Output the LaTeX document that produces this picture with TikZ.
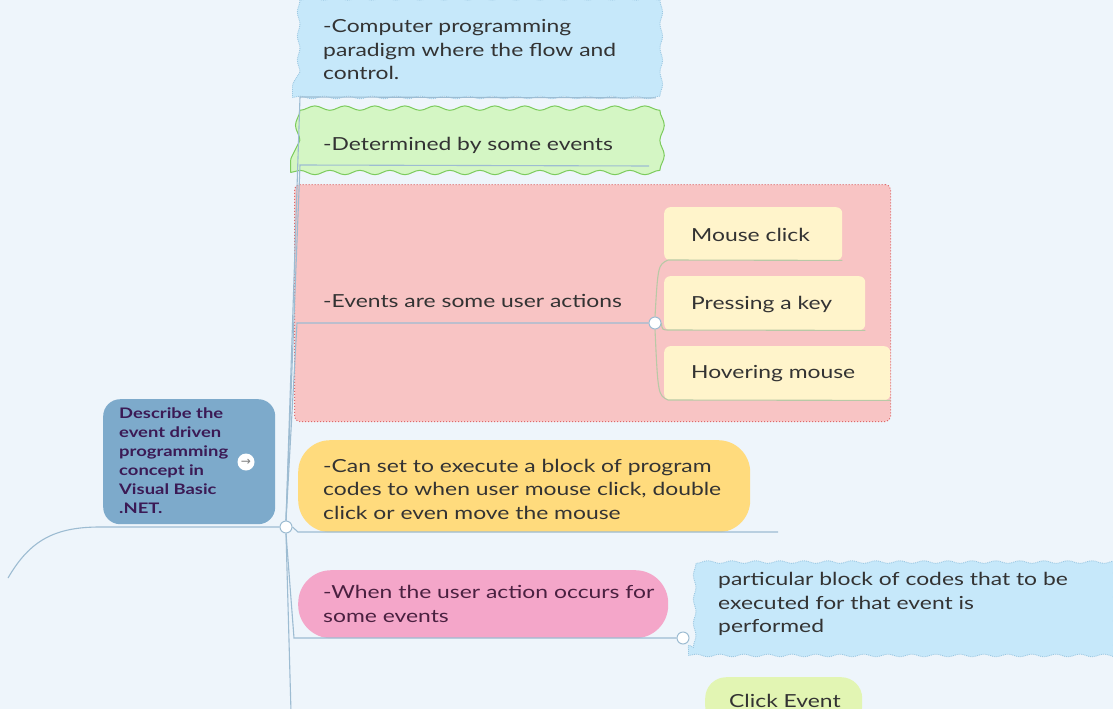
\documentclass[tikz,border=0pt]{standalone}
\usepackage{fontspec}
\setmainfont{Lato}[FakeStretch=1.27]
\newfontfamily\symfont{DejaVu Sans}
\usetikzlibrary{decorations.pathmorphing}
\pgfdeclarelayer{front}
\pgfsetlayers{main,front}
\definecolor{bgc}{HTML}{EEF5FB}
\definecolor{cloudfill}{HTML}{C6E8FA}
\definecolor{cloudline}{HTML}{9CC8E2}
\definecolor{greenfill}{HTML}{D4F6C4}
\definecolor{greenline}{HTML}{7CCB5C}
\definecolor{redfill}{HTML}{F8C4C4}
\definecolor{redline}{HTML}{DE6A6A}
\definecolor{creamfill}{HTML}{FFF4CB}
\definecolor{creamline}{HTML}{B9C9A6}
\definecolor{rootfill}{HTML}{7DAACB}
\definecolor{roottext}{HTML}{3B1A55}
\definecolor{yellowfill}{HTML}{FFDB7D}
\definecolor{pinkfill}{HTML}{F4A6C9}
\definecolor{clickfill}{HTML}{E2F5B3}
\definecolor{linec}{HTML}{9DBCD2}
\definecolor{txtc}{HTML}{333333}
\definecolor{pinktext}{HTML}{4A2040}
\begin{document}
\begin{tikzpicture}[x=1pt,y=-1pt,
  txt/.style={anchor=west, inner sep=0pt, align=left, text=txtc, font=\fontsize{18}{23.5}\selectfont},
  conn/.style={draw=linec, line width=1.1pt},
  subconn/.style={draw=creamline, line width=1.1pt},
  knob/.style={circle, draw=linec, fill=white, line width=1pt, minimum size=12pt, inner sep=0pt},
  cloudbox/.style={anchor=north west, fill=cloudfill, draw=cloudline, densely dotted, line width=0.9pt, decorate, decoration={snake, segment length=24pt, amplitude=1.3pt}},
  wavybox/.style={anchor=north west, fill=greenfill, draw=greenline, line width=1pt, decorate, decoration={snake, segment length=30pt, amplitude=2.2pt}},
  dotbox/.style={anchor=north west, fill=redfill, draw=redline, dotted, line width=1pt, rounded corners=5pt},
  subbox/.style={anchor=north west, fill=creamfill, rounded corners=6pt},
  pillbox/.style={anchor=north west, rounded corners=#1},
]
\fill[bgc] (0,0) rectangle (1113,709);
\useasboundingbox (0,0) rectangle (1113,709);
\clip (0,0) rectangle (1113,709);

% boxes
\node[cloudbox, minimum width=363pt, minimum height=94pt] (b1) at (292,3) {};
\node[wavybox, minimum width=360pt, minimum height=60pt] (b2) at (290,112) {};
\node[dotbox, minimum width=596pt, minimum height=237pt] (b3) at (294,184) {};
\node[subbox, minimum width=178pt, minimum height=53pt] (s1) at (664,207) {};
\node[subbox, minimum width=201pt, minimum height=54pt] (s2) at (664,276) {};
\node[subbox, minimum width=226pt, minimum height=54pt] (s3) at (664,346) {};
\node[pillbox=17pt, fill=rootfill, minimum width=172pt, minimum height=125pt] (root) at (103,399) {};
\node[pillbox=32pt, fill=yellowfill, minimum width=452pt, minimum height=92pt] (b4) at (298,440) {};
\node[pillbox=33pt, fill=pinkfill, minimum width=370pt, minimum height=68pt] (b5) at (298,570) {};
\node[cloudbox, minimum width=417pt, minimum height=104pt] (b6) at (688,551) {};
\node[pillbox=21pt, fill=clickfill, minimum width=157pt, minimum height=50pt] (b7) at (705,677) {};

% texts
\node[txt] (t1) at (323,50) {-Computer programming\\paradigm where the flow and\\control.};
\node[txt] (t2) at (323,145) {-Determined by some events};
\node[txt] (t3) at (323,301) {-Events are some user actions};
\node[txt] (ts1) at (691,235) {Mouse click};
\node[txt] (ts2) at (691,305) {Pressing a key};
\node[txt] (ts3) at (691,374) {Hovering mouse};
\node[txt, text=roottext, font=\bfseries\fontsize{14.5}{19}\selectfont] (troot) at (119,461) {Describe the\\event driven\\programming\\concept in\\Visual Basic\\.NET.};
\node[circle, fill=white, minimum size=17pt, inner sep=0pt, text=gray, font=\symfont\fontsize{12}{12}\selectfont] (icon) at (246,462) {→};
\node[txt] (t4) at (323,489) {-Can set to execute a block of program\\codes to when user mouse click, double\\click or even move the mouse};
\node[txt, text=pinktext] (t5) at (323,604) {-When the user action occurs for\\some events};
\node[txt] (t6) at (718,604) {particular block of codes that to be\\executed for that event is\\performed};
\node[txt] (t7) at (729,701) {Click Event};

% knobs
\begin{pgfonlayer}{front}
\node[knob] (c0) at (286,527) {};
\node[knob] (c1) at (655,323) {};
\node[knob] (c2) at (683,638) {};
\end{pgfonlayer}

% helper coordinates
\coordinate (lft) at (8,578);
\coordinate (down) at (291,712);
\coordinate (k1) at (300,97);
\coordinate (k2) at (300,165);
\coordinate (k3) at (297,323);
\coordinate (k4) at (298,532);
\coordinate (k4e) at (778,532);
\coordinate (k5) at (294,638);

% connectors
\draw[conn] (lft) .. controls (30,540) and (55,527) .. (100,527) -- (c0.west);
\draw[conn] (c0.north) -- (k1) -- (b1.south east);
\draw[conn] (c0.north) -- (k2) -- ([shift={(-2,-7)}]b2.south east);
\draw[conn] (c0.north) -- (k3) -- (c1.west);
\draw[conn] (c0.east) -- (k4) -- (k4e);
\draw[conn] (c0.south) -- (k5) -- (c2.west);
\draw[conn] (c0.south) -- (down);
\draw[subconn] (c1.north) .. controls (658,265) .. (668,260) -- (s1.south east);
\draw[subconn] (c1.east) .. controls (662,330) .. (670,330) -- (s2.south east);
\draw[subconn] (c1.south) .. controls (658,395) .. (668,400) -- (s3.south east);
\end{tikzpicture}
\end{document}
